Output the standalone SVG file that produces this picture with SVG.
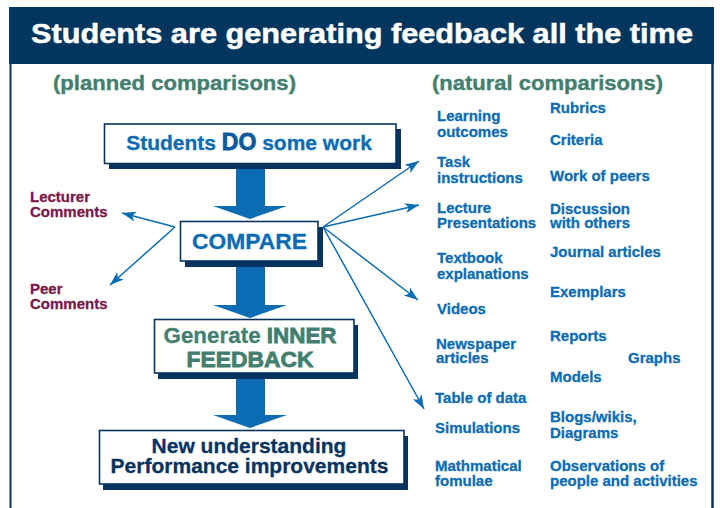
<svg xmlns="http://www.w3.org/2000/svg" width="720" height="508" viewBox="0 0 720 508">
  <style>
    text { font-family: "Liberation Sans", Arial, Helvetica, sans-serif; font-weight: bold; }
    .title { fill: #ffffff; stroke: #ffffff; stroke-width: 0.5px; font-size: 28.5px; }
    .head { fill: #437f6f; stroke: #437f6f; stroke-width: 0.4px; font-size: 21px; }
    .blue { fill: #0b6cb3; stroke: #0b6cb3; stroke-width: 0.3px; }
    .nat { fill: #0b6cb3; stroke: #0b6cb3; stroke-width: 0.3px; font-size: 15px; }
    .maroon { fill: #7a1848; stroke: #7a1848; stroke-width: 0.3px; font-size: 15px; }
    .green { fill: #437f6f; stroke: #437f6f; stroke-width: 0.3px; }
    .navyt { fill: #07335e; stroke: #07335e; stroke-width: 0.3px; font-size: 21px; }
    .heavy { stroke-width: 0.8px; }
    .box { fill: #ffffff; stroke: #07335e; stroke-width: 1.6px; }
    .shadow { fill: #07335e; }
    .bigarrow { fill: #0b6cb3; }
    .conn { stroke: #0b6cb3; stroke-width: 1.5px; fill: none; marker-end: url(#ah); }
  </style>
  <defs>
    <marker id="ah" markerUnits="userSpaceOnUse" markerWidth="16" markerHeight="12" refX="14" refY="5.5" orient="auto">
      <path d="M0,0.5 L14,5.5 L0,10.5 L3.5,5.5 z" fill="#0b6cb3"/>
    </marker>
  </defs>

  <!-- page frame -->
  <rect x="0" y="0" width="720" height="508" fill="#ffffff"/>
  <line x1="10.5" y1="60" x2="10.5" y2="508" stroke="#07335e" stroke-width="2"/>
  <line x1="712.5" y1="60" x2="712.5" y2="508" stroke="#07335e" stroke-width="2.5"/>

  <!-- title bar -->
  <g id="title">
    <rect x="9" y="7" width="705" height="57" fill="#03365f"/>
    <text class="title" x="31" y="43" textLength="662" lengthAdjust="spacingAndGlyphs">Students are generating feedback all the time</text>
  </g>

  <!-- column headings -->
  <g id="headings">
    <text class="head" x="53" y="90" textLength="243" lengthAdjust="spacingAndGlyphs">(planned comparisons)</text>
    <text class="head" x="432" y="90" textLength="231" lengthAdjust="spacingAndGlyphs">(natural comparisons)</text>
  </g>

  <!-- thick flow arrows between the steps -->
  <g id="flow-arrows">
    <path class="bigarrow" d="M236,168 H265 V206 H287 L250,219 L213,206 H236 Z"/>
    <path class="bigarrow" d="M236,266 H265 V305 H287 L250,318 L213,305 H236 Z"/>
    <path class="bigarrow" d="M236,378 H265 V415 H287 L250,428 L213,415 H236 Z"/>
  </g>

  <!-- step boxes -->
  <g id="do-work">
    <rect class="shadow" x="109" y="129" width="292" height="40"/>
    <rect class="box" x="104.5" y="124" width="291.5" height="39.5"/>
    <text class="blue" x="249" y="150" text-anchor="middle" font-size="21"><tspan>Students </tspan><tspan fill="#0a5a9c" stroke="#0a5a9c" class="heavy" font-size="23">DO</tspan><tspan> some work</tspan></text>
  </g>

  <g id="compare">
    <rect class="shadow" x="185" y="227" width="138" height="40"/>
    <rect class="box" x="180.5" y="221.5" width="137.5" height="39.5"/>
    <text class="blue" x="249.5" y="248.5" text-anchor="middle" font-size="22" stroke-width="0.6" textLength="115" lengthAdjust="spacingAndGlyphs">COMPARE</text>
  </g>

  <g id="inner-feedback">
    <rect class="shadow" x="158" y="325" width="200" height="54"/>
    <rect class="box" x="154.5" y="319.5" width="199.5" height="53.5"/>
    <text class="green" x="250" text-anchor="middle" font-size="22"><tspan x="250" y="343" textLength="173" lengthAdjust="spacingAndGlyphs">Generate <tspan class="heavy">INNER</tspan></tspan><tspan x="250" y="367" class="heavy" textLength="127" lengthAdjust="spacingAndGlyphs">FEEDBACK</tspan></text>
  </g>

  <g id="outcome">
    <rect class="shadow" x="103" y="436" width="305" height="54"/>
    <rect class="box" x="99.5" y="430.5" width="304.5" height="53.5"/>
    <text class="navyt" text-anchor="middle"><tspan x="249" y="453">New understanding</tspan><tspan x="249.5" y="473">Performance improvements</tspan></text>
  </g>

  <!-- planned comparison sources -->
  <g id="lecturer-comments">
    <text class="maroon"><tspan x="30" y="202">Lecturer</tspan><tspan x="30" y="217">Comments</tspan></text>
  </g>
  <g id="peer-comments">
    <text class="maroon"><tspan x="30" y="294">Peer</tspan><tspan x="30" y="309">Comments</tspan></text>
  </g>

  <!-- connectors from COMPARE -->
  <g id="connectors">
    <line class="conn" x1="175" y1="227" x2="122" y2="213"/>
    <line class="conn" x1="175" y1="227" x2="110" y2="285"/>
    <line class="conn" x1="323" y1="227" x2="419" y2="161"/>
    <line class="conn" x1="323" y1="227" x2="419" y2="205"/>
    <line class="conn" x1="323" y1="227" x2="418" y2="300"/>
    <line class="conn" x1="323" y1="227" x2="424" y2="409"/>
  </g>

  <!-- natural comparison sources, first column -->
  <g id="learning-outcomes"><text class="nat"><tspan x="437" y="121">Learning</tspan><tspan x="437" y="137">outcomes</tspan></text></g>
  <g id="task-instructions"><text class="nat"><tspan x="437" y="167">Task</tspan><tspan x="437" y="183">instructions</tspan></text></g>
  <g id="lecture-presentations"><text class="nat"><tspan x="437" y="213">Lecture</tspan><tspan x="437" y="228">Presentations</tspan></text></g>
  <g id="textbook"><text class="nat"><tspan x="437" y="263">Textbook</tspan><tspan x="437" y="279">explanations</tspan></text></g>
  <g id="videos"><text class="nat" x="437" y="314" font-size="16.5">Videos</text></g>
  <g id="newspaper"><text class="nat"><tspan x="436" y="349">Newspaper</tspan><tspan x="436" y="363">articles</tspan></text></g>
  <g id="table-of-data"><text class="nat" x="435" y="403">Table of data</text></g>
  <g id="simulations"><text class="nat" x="435" y="433">Simulations</text></g>
  <g id="formulae"><text class="nat"><tspan x="435" y="471">Mathmatical</tspan><tspan x="435" y="486">fomulae</tspan></text></g>

  <!-- natural comparison sources, second column -->
  <g id="rubrics"><text class="nat" x="550" y="113">Rubrics</text></g>
  <g id="criteria"><text class="nat" x="550" y="145">Criteria</text></g>
  <g id="work-of-peers"><text class="nat" x="550" y="181">Work of peers</text></g>
  <g id="discussion"><text class="nat"><tspan x="550" y="214">Discussion</tspan><tspan x="550" y="228">with others</tspan></text></g>
  <g id="journal-articles"><text class="nat" x="550" y="257">Journal articles</text></g>
  <g id="exemplars"><text class="nat" x="550" y="297">Exemplars</text></g>
  <g id="reports"><text class="nat" x="550" y="341">Reports</text></g>
  <g id="graphs"><text class="nat" x="628" y="363">Graphs</text></g>
  <g id="models"><text class="nat" x="550" y="382">Models</text></g>
  <g id="blogs"><text class="nat"><tspan x="550" y="422">Blogs/wikis,</tspan><tspan x="550" y="438">Diagrams</tspan></text></g>
  <g id="observations"><text class="nat"><tspan x="550" y="471">Observations of</tspan><tspan x="550" y="486">people and activities</tspan></text></g>
</svg>
